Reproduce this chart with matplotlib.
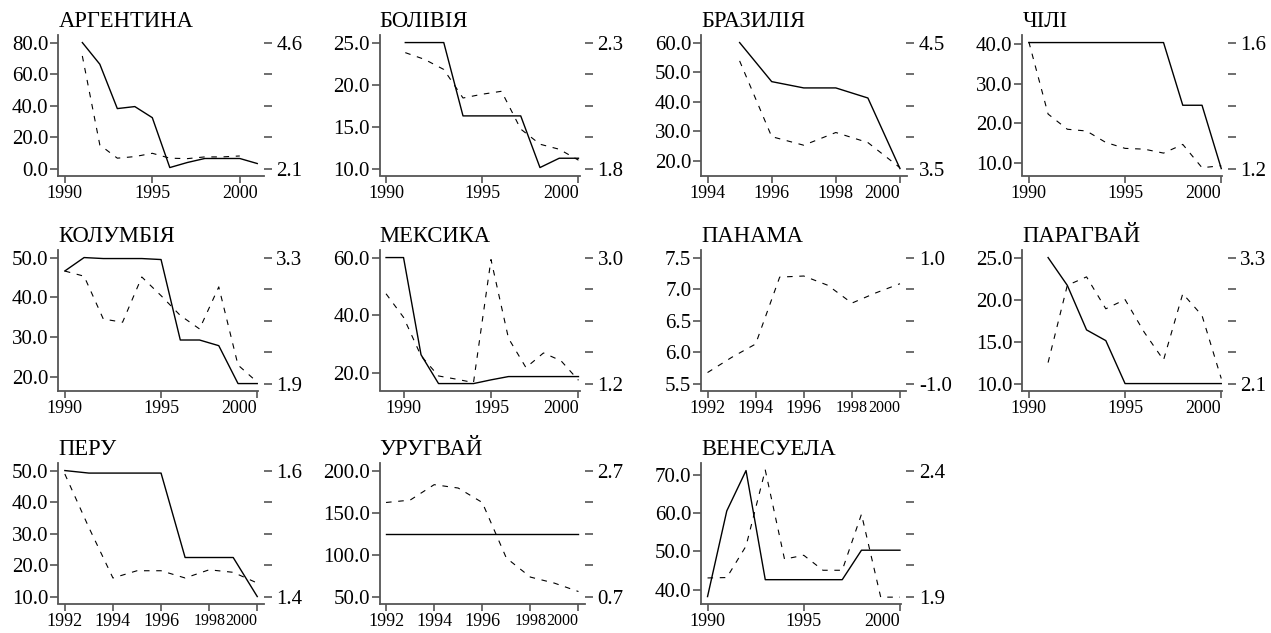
import numpy as np
import matplotlib
matplotlib.use("Agg")
import matplotlib.pyplot as plt

nan = np.nan

# ---------------- DATA ----------------
names = ["АРГЕНТИНА", "БОЛІВІЯ", "БРАЗИЛІЯ", "ЧІЛІ",
         "КОЛУМБІЯ", "МЕКСИКА", "ПАНАМА", "ПАРАГВАЙ",
         "ПЕРУ", "УРУГВАЙ", "ВЕНЕСУЕЛА"]

years_arg = list(range(1990, 2002))
solid_arg = [nan, 4.60, 4.17, 3.29, 3.33, 3.11, 2.12, 2.22, 2.30, 2.30, 2.30, 2.20]
dashed_arg = [nan, 71.5, 15.0, 6.6, 7.6, 9.7, 6.6, 6.3, 7.4, 7.4, 8.0, nan]

years_bol = list(range(1990, 2001))
solid_bol = [nan, 2.30, 2.30, 2.30, 2.009, 2.009, 2.009, 2.009, 1.804, 1.841, 1.841]
dashed_bol = [nan, 23.8, 23.0, 21.8, 18.4, 18.85, 19.2, 14.7, 12.9, 12.3, 11.0]

years_bra = list(range(1994, 2001))
solid_bra = [nan, 4.50, 4.19, 4.14, 4.14, 4.06, 3.50]
dashed_bra = [nan, 53.8, 28.2, 25.3, 29.6, 26.2, 17.7]

years_chl = list(range(1990, 2001))
solid_chl = [1.6, 1.6, 1.6, 1.6, 1.6, 1.6, 1.6, 1.6, 1.401, 1.401, 1.2]
dashed_chl = [40.6, 22.3, 18.45, 18.0, 15.1, 13.6, 13.4, 12.4, 14.6, 8.7, 9.2]

years_col = list(range(1990, 2001))
solid_col = [3.151, 3.30, 3.289, 3.289, 3.289, 3.278, 2.384, 2.384, 2.321, 1.90, 1.90]
dashed_col = [46.6, 45.3, 34.5, 33.7, 45.1, 40.4, 35.4, 32.0, 42.6, 22.9, 18.6]

years_mex = list(range(1989, 2001))
solid_mex = [3.0, 3.0, 1.612, 1.2, 1.2, 1.2, 1.253, 1.3, 1.3, 1.3, 1.3, 1.3]
dashed_mex = [47.4, 39.2, 25.8, 18.8, 17.7, 16.5, 59.3, 31.9, 21.7, 26.8, 24.1, 17.3]

years_pan = list(range(1992, 2001))
solid_pan = [nan] * 9
dashed_pan = [5.675, 5.915, 6.128, 7.19, 7.207, 7.06, 6.777, 6.94, 7.085]

years_pry = list(range(1990, 2001))
solid_pry = [nan, 3.3, 3.035, 2.611, 2.509, 2.1, 2.1, 2.1, 2.1, 2.1, 2.1]
dashed_pry = [nan, 12.5, 21.7, 22.7, 18.9, 20.0, 16.1, 12.8, 20.7, 18.1, 10.6]

years_per = list(range(1992, 2001))
solid_per = [1.6, 1.596, 1.596, 1.596, 1.596, 1.462, 1.462, 1.462, 1.4]
dashed_per = [48.9, 31.9, 15.9, 18.2, 18.2, 15.9, 18.5, 17.7, 14.3]

years_ury = list(range(1992, 2001))
solid_ury = [1.7] * 9
dashed_ury = [162.0, 164.8, 183.2, 179.2, 162.0, 96.0, 73.2, 66.0, 56.0]

years_ven = list(range(1990, 2001))
solid_ven = [1.9, 2.24, 2.4, 1.967, 1.967, 1.967, 1.967, 1.967, 2.084, 2.084, 2.084]
dashed_ven = [43.1, 43.2, 51.4, 71.2, 48.0, 49.0, 45.1, 45.1, 59.7, 38.1, 38.1]

# left axis: value range, ticks
left_range = [(0, 80), (10, 25), (17.41, 60), (8.48, 40.42),
              (18.23, 50), (16.15, 60), (5.5, 7.5), (10, 25),
              (10, 50), (50, 200), (38.25, 71.06)]
left_ticks = [[0, 20, 40, 60, 80], [10, 15, 20, 25], [20, 30, 40, 50, 60], [10, 20, 30, 40],
              [20, 30, 40, 50], [20, 40, 60], [5.5, 6.0, 6.5, 7.0, 7.5], [10, 15, 20, 25],
              [10, 20, 30, 40, 50], [50, 100, 150, 200], [40, 50, 60, 70]]
# right axis range (labels at ends)
right_range = [(2.1, 4.6), (1.8, 2.3), (3.5, 4.5), (1.2, 1.6),
               (1.9, 3.3), (1.2, 3.0), (-1.0, 1.0), (2.1, 3.3),
               (1.4, 1.6), (0.7, 2.7), (1.9, 2.4)]
# x axis: start/end year and ticks
x_span = [(1990, 2001), (1990, 2000), (1994, 2000), (1990, 2000),
          (1990, 2000), (1989, 2000), (1992, 2000), (1990, 2000),
          (1992, 2000), (1992, 2000), (1990, 2000)]
x_ticks = [[1990, 1995, 2000], [1990, 1995, 2000], [1994, 1996, 1998, 2000], [1990, 1995, 2000],
           [1990, 1995, 2000], [1990, 1995, 2000], [1992, 1994, 1996, 1998, 2000], [1990, 1995, 2000],
           [1992, 1994, 1996, 1998, 2000], [1992, 1994, 1996, 1998, 2000], [1990, 1995, 2000]]

years_all = [years_arg, years_bol, years_bra, years_chl, years_col, years_mex,
             years_pan, years_pry, years_per, years_ury, years_ven]
solid_all = [solid_arg, solid_bol, solid_bra, solid_chl, solid_col, solid_mex,
             solid_pan, solid_pry, solid_per, solid_ury, solid_ven]
dashed_all = [dashed_arg, dashed_bol, dashed_bra, dashed_chl, dashed_col, dashed_mex,
              dashed_pan, dashed_pry, dashed_per, dashed_ury, dashed_ven]

# ---------------- LAYOUT ----------------
plt.rcParams['font.family'] = ['Liberation Serif', 'DejaVu Serif']
FW, FH = 1271, 633
col_left = [58.3, 379.5, 701.0, 1022.3]
col_w = 205.5
row_top = [35.0, 250.0, 463.0]
row_h = 140.5
PAD_TOP, PAD_BOT = 0.06, 0.055
XPAD = 0.034
AX_COLOR = '#555555'

fig = plt.figure(figsize=(FW / 100, FH / 100), dpi=100)

for i, name in enumerate(names):
    r, c = divmod(i, 4)
    x0 = col_left[c]
    y0 = row_top[r]
    ax = fig.add_axes([x0 / FW, 1 - (y0 + row_h) / FH, col_w / FW, row_h / FH])
    ax.patch.set_visible(False)
    ax2 = ax.twinx()

    xs, xe = x_span[i]
    pad = XPAD * (xe - xs)
    ax.set_xlim(xs - pad, xe + pad)

    lo, hi = left_range[i]
    s = hi - lo
    ax.set_ylim(lo - PAD_BOT * s, hi + PAD_TOP * s)
    rlo, rhi = right_range[i]
    s2 = rhi - rlo
    ax2.set_ylim(rlo - PAD_BOT * s2, rhi + PAD_TOP * s2)

    yrs = np.array(years_all[i], dtype=float)
    ax.plot(yrs, np.array(dashed_all[i], dtype=float), color='black', lw=0.8,
            linestyle=(0, (5, 6)))
    ax2.plot(yrs, np.array(solid_all[i], dtype=float), color='black', lw=1.0)

    for sp in ['top', 'right']:
        ax.spines[sp].set_visible(False)
    for sp in ax2.spines.values():
        sp.set_visible(False)
    ax.spines['left'].set_color(AX_COLOR)
    ax.spines['left'].set_linewidth(1.3)
    ax.spines['bottom'].set_color(AX_COLOR)
    ax.spines['bottom'].set_linewidth(1.3)
    step = x_ticks[i][1] - x_ticks[i][0]
    if step == 5 and xe == 2000:
        ax.spines['bottom'].set_bounds(xs - pad, 2000.06)

    ax.set_yticks(left_ticks[i])
    ax.set_yticklabels(["%.1f" % v for v in left_ticks[i]])
    ax.set_xticks(x_ticks[i])
    ax.set_xticklabels([str(v) for v in x_ticks[i]])

    rt = np.linspace(rlo, rhi, 5)
    ax2.set_yticks(rt)
    ax2.set_yticklabels(["%.1f" % rlo, "", "", "", "%.1f" % rhi])

    ax.tick_params(axis='y', direction='out', length=5.5, width=1.2, pad=1.5,
                   labelsize=15, color=AX_COLOR)
    ax.tick_params(axis='x', direction='out', length=5.0, width=1.2, pad=1.5,
                   labelsize=13, color=AX_COLOR)
    ax2.tick_params(axis='y', direction='out', length=6.0, width=1.2, pad=3.0,
                    labelsize=15, color=AX_COLOR)

    xl = ax.get_xticklabels()
    if x_ticks[i][-1] == xe:
        xl[-1].set_horizontalalignment('right')
    # crowded last two labels on the 1992-2000 panels are set tighter
    if step == 2 and xs == 1992:
        xl[-1].set_fontsize(11.5)
        xl[-2].set_fontsize(11.5)

    ax.set_title(name, loc='left', fontsize=16.3, pad=5.5)

fig.savefig("out.png", dpi=100)
